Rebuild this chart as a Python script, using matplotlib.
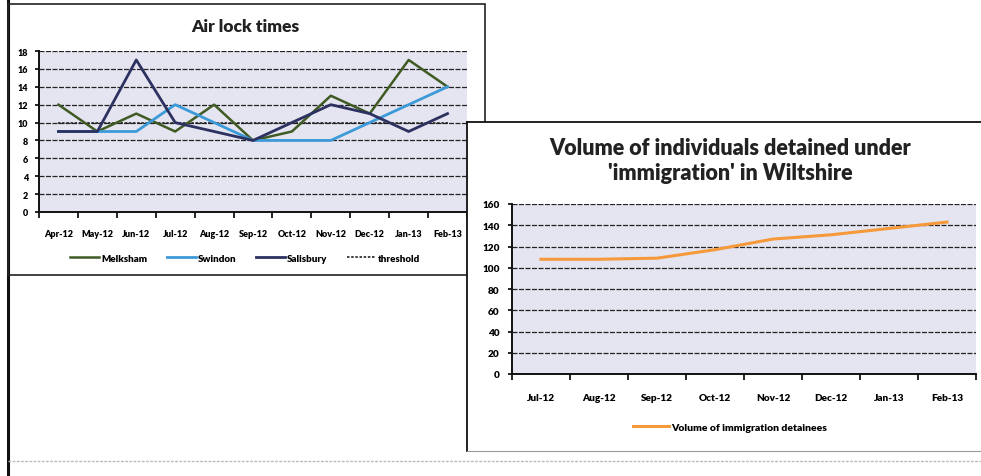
import matplotlib
matplotlib.use("Agg")
import matplotlib.pyplot as plt
import numpy as np
from matplotlib.patches import Rectangle
from matplotlib.lines import Line2D

# Air lock times
months_a = ["Apr-12", "May-12", "Jun-12", "Jul-12", "Aug-12", "Sep-12",
            "Oct-12", "Nov-12", "Dec-12", "Jan-13", "Feb-13"]
melksham = [12, 9, 11, 9, 12, 8, 9, 13, 11, 17, 14]
swindon = [9, 9, 9, 12, 10, 8, 8, 8, 10, 12, 14]
salisbury = [9, 9, 17, 10, 9, 8, 10, 12, 11, 9, 11]
threshold = [10] * len(months_a)
yticks_a = list(range(0, 19, 2))

# Immigration detentions
months_b = ["Jul-12", "Aug-12", "Sep-12", "Oct-12", "Nov-12", "Dec-12", "Jan-13", "Feb-13"]
detainees = [108, 108, 109, 117, 127, 131, 137, 143]
yticks_b = list(range(0, 161, 20))

W, H = 981, 477
plt.rcParams["font.family"] = ["Lato", "DejaVu Sans"]
fig = plt.figure(figsize=(W / 100, H / 100), dpi=100)
fig.patch.set_facecolor("white")


def fx(px):
    return px / W


def fy(py):
    return 1 - py / H


PLOT_BG = "#e5e5f1"
GRID = dict(color="#222222", lw=0.9, ls=(0, (4, 1.2)))


def style_axes(ax, labels, yticks, fs, ypad):
    n = len(labels)
    ax.set_facecolor(PLOT_BG)
    ax.set_xlim(-0.5, n - 0.5)
    ax.set_ylim(yticks[0], yticks[-1])
    ax.set_yticks(yticks)
    ax.set_yticklabels([str(v) for v in yticks], fontsize=fs, fontweight="heavy")
    ax.set_xticks(np.arange(n))
    ax.set_xticklabels(labels, fontsize=fs, fontweight="heavy")
    ax.set_xticks(np.arange(n + 1) - 0.5, minor=True)
    ax.tick_params(axis="x", which="major", length=0, pad=12)
    ax.tick_params(axis="x", which="minor", length=4, width=1.2, direction="out")
    ax.tick_params(axis="y", length=3, width=1.2, direction="out", pad=ypad)
    for v in yticks[1:]:
        ax.axhline(v, zorder=1, **GRID)
    for s in ["top", "right"]:
        ax.spines[s].set_visible(False)
    for s in ["left", "bottom"]:
        ax.spines[s].set_linewidth(1.4)
        ax.spines[s].set_color("#111111")


# page left rule and faint bottom rule
fig.add_artist(Line2D([fx(8), fx(8)], [0, 1], color="#111111", lw=2.2, zorder=0.2))
fig.add_artist(Line2D([fx(8), 1], [fy(462), fy(462)], color="#bbbbbb", lw=1,
                      ls=(0, (2, 1)), zorder=0.2))

# left chart frame
fig.add_artist(Rectangle((fx(8), fy(276)), fx(485 - 8), (276 - 5) / H, fill=False,
                         ec="#222222", lw=1.2, zorder=0.5))
fig.text(fx(245), fy(27), "Air lock times", ha="center", va="center",
         fontsize=12.5, fontweight="heavy", color="#222222")

ax1 = fig.add_axes([fx(39), fy(213), fx(467 - 39), (213 - 52) / H], zorder=1)
style_axes(ax1, months_a, yticks_a, 6.5, 5)
x = np.arange(len(months_a))
l1, = ax1.plot(x, melksham, color="#3f5a22", lw=1.8, zorder=3, label="Melksham")
l2, = ax1.plot(x, swindon, color="#3c9ad8", lw=2.0, zorder=3, label="Swindon")
l3, = ax1.plot(x, salisbury, color="#2c3160", lw=2.0, zorder=3, label="Salisbury")
l4, = ax1.plot(x, threshold, color="#222222", lw=1.2, ls=(0, (1.5, 1)), zorder=2.5,
               label="threshold")
ax1.legend(handles=[l1, l2, l3, l4], loc="center", bbox_to_anchor=(fx(245), fy(259)),
           bbox_transform=fig.transFigure, ncol=4, frameon=False,
           prop=dict(size=7, weight="heavy"), handlelength=3.0, handletextpad=0.2,
           columnspacing=2.0)

# right chart frame (covers part of the left chart)
bg2 = fig.add_axes([fx(467), fy(452), fx(981 - 467) + 0.01, (452 - 123) / H], zorder=2)
bg2.set_xticks([])
bg2.set_yticks([])
bg2.set_facecolor("white")
bg2.spines["right"].set_visible(False)
for s in ["left", "top"]:
    bg2.spines[s].set_color("#111111")
    bg2.spines[s].set_linewidth(1.3)
bg2.spines["bottom"].set_color("#999999")
bg2.spines["bottom"].set_linestyle((0, (2, 1)))

fig.text(fx(730), fy(161), "Volume of individuals detained under\n'immigration' in Wiltshire",
         ha="center", va="center", fontsize=15.5, fontweight="heavy", color="#222222",
         linespacing=1.25, zorder=4)

ax2 = fig.add_axes([fx(512), fy(375), fx(976 - 512), (375 - 205) / H], zorder=3)
style_axes(ax2, months_b, yticks_b, 7.2, 6)
ax2.tick_params(axis="x", which="major", pad=14)
xb = np.arange(len(months_b))
l5, = ax2.plot(xb, detainees, color="#f5993a", lw=2.2, zorder=3,
               label="Volume of immigration detainees")
ax2.legend(handles=[l5], loc="center", bbox_to_anchor=(fx(730), fy(428)),
           bbox_transform=fig.transFigure, frameon=False,
           prop=dict(size=7.5, weight="heavy"), handlelength=3.5, handletextpad=0.2)

fig.savefig("out.png", dpi=100)
